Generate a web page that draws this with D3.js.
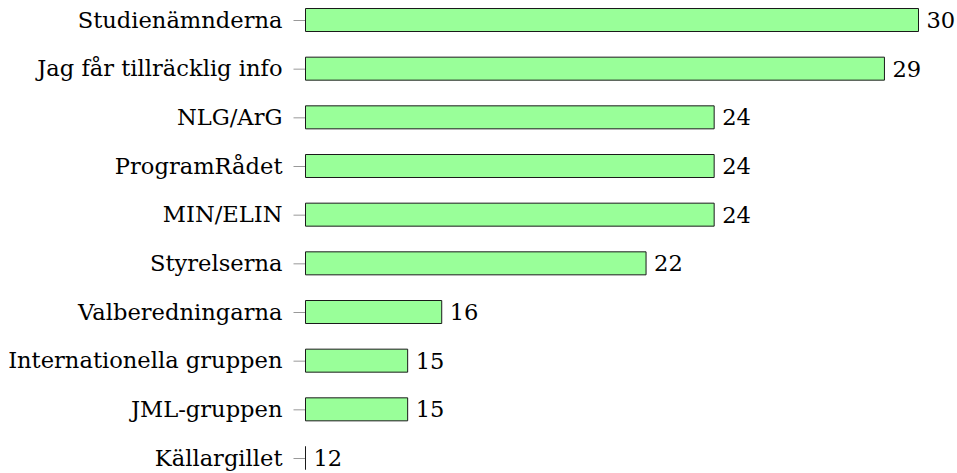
<!DOCTYPE html>
<html><head><meta charset="utf-8">
<script src="https://cdn.jsdelivr.net/npm/d3@7"></script>
<style>body{margin:0;background:#fff}svg{display:block}text{font-family:"DejaVu Serif","Liberation Serif",serif;fill:#000}</style>
</head><body>
<script>
const categories = ["Studienämnderna","Jag får tillräcklig info","NLG/ArG","ProgramRådet","MIN/ELIN","Styrelserna","Valberedningarna","Internationella gruppen","JML-gruppen","Källargillet"];
const values = [30,29,24,24,24,22,16,15,15,12];
const xDomain = [12, 30];

const W = 957, H = 473;
const svg = d3.select("body").append("svg").attr("width", W).attr("height", H);
const x = d3.scaleLinear().domain(xDomain).range([305.5, 918.5]);
const y = d3.scalePoint().domain(categories).range([20, 458]);
const bh = 23;
const fs = "22.6px";

const yAxis = d3.axisLeft(y).tickSize(12).tickPadding(11);
const ga = svg.append("g").attr("transform", `translate(${x(xDomain[0])},0)`).call(yAxis);
ga.select(".domain").remove();
ga.selectAll(".tick line").attr("stroke", "#999").attr("stroke-width", 1);
ga.selectAll(".tick text").style("font-size", fs).attr("fill", "#000").attr("font-family", null).attr("dy", "0.32em");

svg.append("g").selectAll("path").data(values).join("path")
  .attr("d", (d, i) => {
    const x0 = x(xDomain[0]), x1 = x(d), yt = y(categories[i]) - bh / 2;
    return `M${x0},${yt}H${x1}V${yt + bh}H${x0}Z`;
  })
  .attr("fill", "#99ff99")
  .attr("stroke", "#1a1a1a")
  .attr("stroke-width", 1);

svg.append("g").selectAll("text").data(values).join("text")
  .attr("x", d => x(d) + 8)
  .attr("y", (d, i) => y(categories[i]))
  .attr("dy", "0.35em")
  .style("font-size", fs)
  .text(d => d);
</script>
</body></html>
